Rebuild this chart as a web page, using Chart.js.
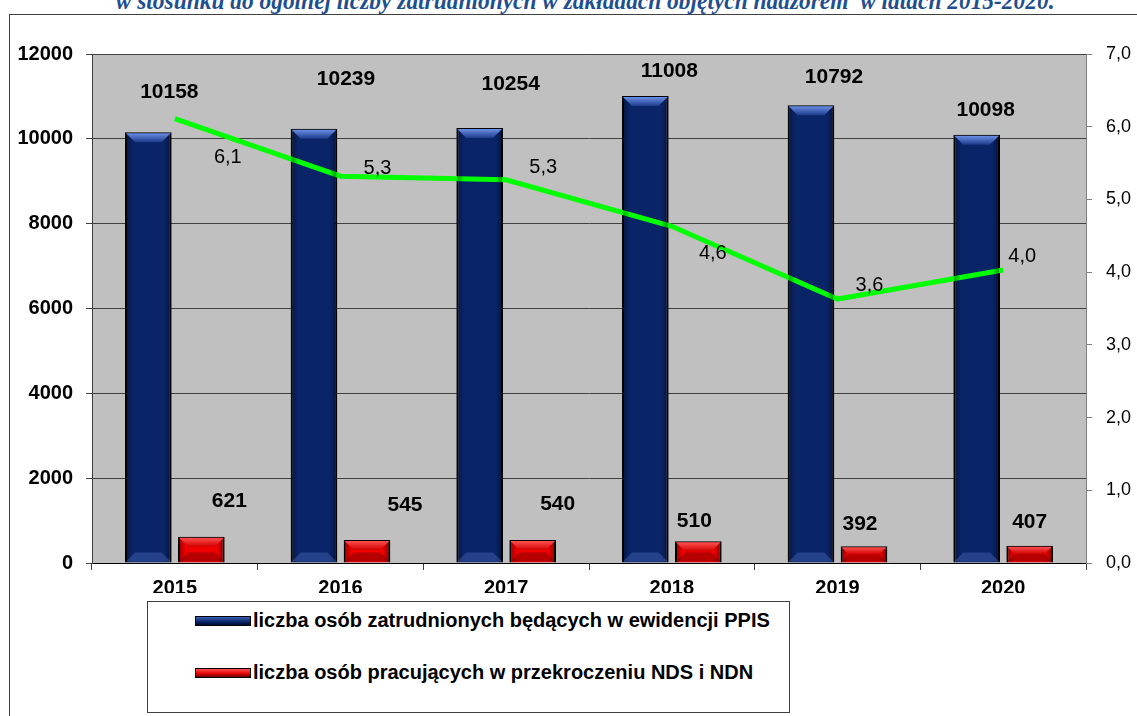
<!DOCTYPE html>
<html>
<head>
<meta charset="utf-8">
<script src="https://cdn.jsdelivr.net/npm/chart.js@4/dist/chart.umd.min.js"></script>
<style>
  body { margin: 0; background: #ffffff; overflow: hidden; }
  #wrap { position: relative; width: 1137px; height: 716px; overflow: hidden; }
  #title {
    position: absolute; left: 16px; width: 1137px; top: -12px; text-align: center;
    font-family: "Liberation Serif", serif; font-style: italic; font-weight: bold;
    font-size: 26px; line-height: 26px; color: #1f4f8f; white-space: nowrap;
    transform: scaleX(0.9); transform-origin: 575px 0;
  }
  #frame {
    position: absolute; left: 9px; top: 14px; width: 1140px; height: 720px;
    border: 1px solid #404040;
  }
  #legend {
    position: absolute; left: 147px; top: 601px; width: 641px; height: 110px;
    border: 1px solid #404040; background: #fff;
    font-family: "Liberation Sans", Arial, sans-serif; font-weight: bold; font-size: 20px;
  }
  .item { position: absolute; left: 47px; display: flex; align-items: center; }
  .sw { width: 54px; height: 8px; border: 1px solid #000; margin-right: 2px; }
  canvas { position: absolute; left: 0; top: 0; }
</style>
</head>
<body>
<div id="wrap">
  <div id="frame"></div>
  <div id="title">w stosunku do ogólnej liczby zatrudnionych w zakładach objętych nadzorem&nbsp; w latach 2015-2020.</div>
  <canvas id="c" width="1137" height="716"></canvas>
  <div id="legend">
    <div class="item" style="top:7px"><div class="sw" style="background:linear-gradient(#3b5fb0,#0a2466 60%,#000a30)"></div>liczba osób zatrudnionych będących w ewidencji PPIS</div>
    <div class="item" style="top:59px"><div class="sw" style="background:linear-gradient(#ff5050,#e00000 60%,#600000)"></div>liczba osób pracujących w przekroczeniu NDS i NDN</div>
  </div>
</div>
<script>
const years = ["2015", "2016", "2017", "2018", "2019", "2020"];
const employed = [10158, 10239, 10254, 11008, 10792, 10098];
const exceeding = [621, 545, 540, 510, 392, 407];
const ratio = [6.11, 5.32, 5.27, 4.63, 3.63, 4.03];
const leftTicks = [0, 2000, 4000, 6000, 8000, 10000, 12000];
const rightTicks = [0, 1, 2, 3, 4, 5, 6, 7];

// label nudges (pixels) so the numbers sit where the original put them
const employedNudge = [[21, 40], [32, 49], [31, 44], [24, 25], [23, 28], [9, 24]];
const exceedingNudge = [[28, 35], [38, 35], [25, 36], [-4, 20], [-4, 22], [0, 24]];
const ratioNudge = [[53, 39], [37, -8], [37, -12], [41, 27], [32, -14], [19, -13]];

const FONT = "'Liberation Sans', Arial, sans-serif";

const plotBg = {
  id: "plotBg",
  beforeDraw(chart) {
    const { ctx, chartArea: a } = chart;
    ctx.save();
    ctx.fillStyle = "#c0c0c0";
    ctx.fillRect(a.left, a.top, a.right - a.left, a.bottom - a.top);
    ctx.strokeStyle = "#808080";
    ctx.lineWidth = 1;
    ctx.beginPath();
    ctx.moveTo(a.right + 0.5, a.top);
    ctx.lineTo(a.right + 0.5, a.bottom);
    ctx.stroke();
    ctx.restore();
  }
};

// shading and bevels on each bar, like the old office 3D bars
const bevel = {
  id: "bevel",
  afterDatasetsDraw(chart) {
    const ctx = chart.ctx;
    [0, 1].forEach(di => {
      const meta = chart.getDatasetMeta(di);
      const light = di === 0 ? "#6a90e8" : "#ff5050";
      const dark = di === 0 ? "#1e3a88" : "#d00000";
      meta.data.forEach(bar => {
        const l = bar.x - bar.width / 2 + 1, r = bar.x + bar.width / 2 - 1;
        const t = bar.y + 1, b = bar.base - 1, h = 9;
        ctx.save();
        // side shading
        const sg = ctx.createLinearGradient(l, 0, r, 0);
        sg.addColorStop(0, "rgba(0,0,0,0.35)");
        sg.addColorStop(0.15, "rgba(0,0,0,0)");
        sg.addColorStop(0.85, "rgba(0,0,0,0)");
        sg.addColorStop(1, "rgba(0,0,0,0.4)");
        ctx.fillStyle = sg;
        ctx.fillRect(l, t, r - l, b - t);
        const hh = Math.min(h, (b - t) / 2);
        const g = ctx.createLinearGradient(0, t, 0, t + hh);
        g.addColorStop(0, light);
        g.addColorStop(1, dark);
        ctx.fillStyle = g;
        ctx.beginPath();
        ctx.moveTo(l, t);
        ctx.lineTo(r, t);
        ctx.lineTo(r - hh, t + hh);
        ctx.lineTo(l + hh, t + hh);
        ctx.closePath();
        ctx.fill();
        ctx.fillStyle = di === 0 ? "rgba(90,120,200,0.35)" : "rgba(110,0,0,0.45)";
        ctx.beginPath();
        ctx.moveTo(l, b);
        ctx.lineTo(r, b);
        ctx.lineTo(r - hh, b - hh);
        ctx.lineTo(l + hh, b - hh);
        ctx.closePath();
        ctx.fill();
        ctx.restore();
      });
    });
  }
};

const valueLabels = {
  id: "valueLabels",
  afterDraw(chart) {
    const ctx = chart.ctx;
    ctx.save();
    ctx.fillStyle = "#000";
    ctx.textAlign = "center";
    ctx.textBaseline = "middle";
    ctx.font = "bold 21px " + FONT;
    chart.getDatasetMeta(0).data.forEach((bar, i) => {
      ctx.fillText(String(employed[i]), bar.x + employedNudge[i][0], bar.y - employedNudge[i][1]);
    });
    chart.getDatasetMeta(1).data.forEach((bar, i) => {
      ctx.fillText(String(exceeding[i]), bar.x + exceedingNudge[i][0], bar.y - exceedingNudge[i][1]);
    });
    ctx.font = "20px " + FONT;
    chart.getDatasetMeta(2).data.forEach((pt, i) => {
      ctx.fillText(ratio[i].toFixed(1).replace(".", ","), pt.x + ratioNudge[i][0], pt.y + ratioNudge[i][1]);
    });
    ctx.restore();
  }
};

new Chart(document.getElementById("c"), {
  data: {
    labels: years,
    datasets: [
      {
        type: "bar", label: "liczba osób zatrudnionych będących w ewidencji PPIS",
        data: employed, yAxisID: "y", order: 2,
        backgroundColor: "#0a2468",
        borderColor: "#000", borderWidth: 2,
        categoryPercentage: 0.64, barPercentage: 0.88
      },
      {
        type: "bar", label: "liczba osób pracujących w przekroczeniu NDS i NDN",
        data: exceeding, yAxisID: "y", order: 2,
        backgroundColor: "#f00000",
        borderColor: "#000", borderWidth: 2,
        categoryPercentage: 0.64, barPercentage: 0.88
      },
      {
        type: "line", label: "ratio",
        data: ratio, yAxisID: "y1", order: 1,
        borderColor: "#00ff00", borderWidth: 5, pointRadius: 0,
        tension: 0, fill: false
      }
    ]
  },
  options: {
    responsive: false,
    animation: false,
    layout: { padding: { top: 54, bottom: 123, left: 0, right: 0 } },
    plugins: { legend: { display: false }, tooltip: { enabled: false } },
    scales: {
      x: {
        offset: true,
        afterFit: s => { s.height = 30; },
        grid: { offset: true, drawOnChartArea: false, drawTicks: true, tickLength: 7, color: "#404040" },
        border: { color: "#000", width: 1 },
        ticks: { color: "#000", font: { family: FONT, size: 20, weight: "bold" }, padding: 6 }
      },
      y: {
        position: "left", min: 0, max: 12000,
        afterFit: s => { s.width = 92; },
        afterBuildTicks: s => { s.ticks = leftTicks.map(v => ({ value: v })); },
        grid: { color: "#404040", lineWidth: 1, tickLength: 6 },
        border: { color: "#404040", width: 1 },
        ticks: {
          color: "#000", font: { family: FONT, size: 20, weight: "bold" }, padding: 13,
          callback: v => String(v)
        }
      },
      y1: {
        position: "right", min: 0, max: 7,
        afterFit: s => { s.width = 51; },
        afterBuildTicks: s => { s.ticks = rightTicks.map(v => ({ value: v })); },
        grid: { drawOnChartArea: false, tickLength: 6, color: "#808080" },
        border: { color: "#808080", width: 1 },
        ticks: {
          color: "#000", font: { family: FONT, size: 18 }, padding: 14,
          callback: v => v.toFixed(1).replace(".", ",")
        }
      }
    }
  },
  plugins: [plotBg, bevel, valueLabels]
});
</script>
</body>
</html>
